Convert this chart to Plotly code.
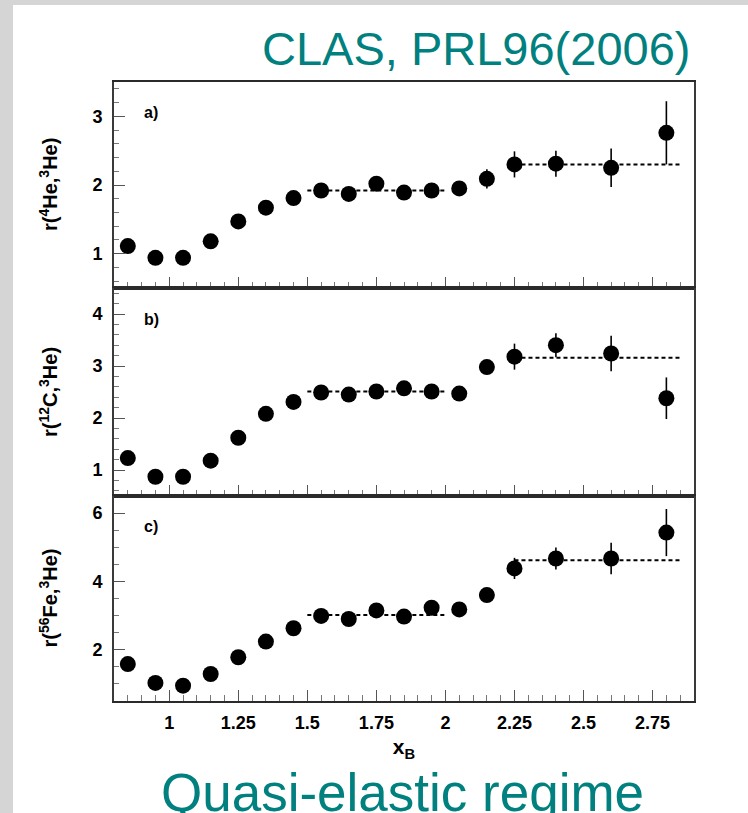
import plotly.graph_objects as go
from plotly.subplots import make_subplots

# x_B bins
x_b = [0.85, 0.95, 1.05, 1.15, 1.25, 1.35, 1.45, 1.55, 1.65, 1.75,
       1.85, 1.95, 2.05, 2.15, 2.25, 2.4, 2.6, 2.8]

# a) r(4He, 3He)
r_he4 = [1.11, 0.94, 0.94, 1.18, 1.47, 1.67, 1.81, 1.92, 1.87, 2.02,
         1.89, 1.92, 1.95, 2.09, 2.30, 2.31, 2.25, 2.76]
err_he4 = [0.03, 0.03, 0.03, 0.03, 0.03, 0.03, 0.03, 0.04, 0.04, 0.05,
           0.05, 0.05, 0.06, 0.14, 0.19, 0.19, 0.28, 0.46]

# b) r(12C, 3He)
r_c12 = [1.23, 0.87, 0.87, 1.18, 1.62, 2.08, 2.31, 2.49, 2.45, 2.51,
         2.57, 2.51, 2.47, 2.98, 3.18, 3.40, 3.24, 2.38]
err_c12 = [0.04, 0.04, 0.04, 0.04, 0.04, 0.04, 0.04, 0.05, 0.05, 0.06,
           0.06, 0.06, 0.07, 0.11, 0.25, 0.23, 0.34, 0.40]

# c) r(56Fe, 3He)
r_fe56 = [1.58, 1.03, 0.95, 1.29, 1.78, 2.24, 2.63, 2.99, 2.90, 3.15,
          2.97, 3.23, 3.18, 3.60, 4.38, 4.67, 4.67, 5.43]
err_fe56 = [0.05, 0.05, 0.05, 0.05, 0.05, 0.05, 0.05, 0.06, 0.06, 0.07,
            0.07, 0.08, 0.09, 0.15, 0.31, 0.32, 0.46, 0.69]

# plateau fits (x range, level per panel)
fit_lo_x = [1.5, 2.0]
fit_hi_x = [2.25, 2.85]
fit_lo = [1.92, 2.51, 3.02]
fit_hi = [2.30, 3.16, 4.62]

panels = [
    (r_he4, err_he4, 'a)', 'r(<sup>4</sup>He,<sup>3</sup>He)', [0.5, 3.5], 1, 0.2),
    (r_c12, err_c12, 'b)', 'r(<sup>12</sup>C,<sup>3</sup>He)', [0.5, 4.5], 1, 0.2),
    (r_fe56, err_fe56, 'c)', 'r(<sup>56</sup>Fe,<sup>3</sup>He)', [0.5, 6.5], 2, 0.5),
]

TEAL = '#00807e'
FONT = 'Liberation Sans, Arial, sans-serif'

W, H = 748, 813
L, R, T, B = 114, 54, 82, 112
pw, ph = W - L - R, H - T - B

def px_x(x):
    return (x - L) / pw

def px_y(y):
    return (H - B - y) / ph

fig = make_subplots(rows=3, cols=1, shared_xaxes=True, vertical_spacing=0,
                    row_heights=[206, 208, 205])

for i, (vals, errs, tag, ytitle, yr, dt, mdt) in enumerate(panels):
    row = i + 1
    for fx, fy in ((fit_lo_x, fit_lo[i]), (fit_hi_x, fit_hi[i])):
        fig.add_trace(go.Scatter(
            x=fx, y=[fy, fy], mode='lines',
            line=dict(color='black', width=2, dash='4px,3px'),
            hoverinfo='skip', showlegend=False), row=row, col=1)
    fig.add_trace(go.Scatter(
        x=x_b, y=vals, mode='markers',
        marker=dict(color='black', size=16, line=dict(width=0)),
        error_y=dict(type='data', array=errs, color='black', thickness=1.6, width=0),
        showlegend=False), row=row, col=1)

    fig.update_yaxes(
        range=yr, dtick=dt, tick0=0, ticks='inside', ticklen=11, tickwidth=1,
        tickcolor='#555', showline=True, linecolor='#3a3a3a', linewidth=2,
        mirror=True, showgrid=False, zeroline=False,
        minor=dict(dtick=mdt, ticks='inside', ticklen=5, tickcolor='#777', showgrid=False),
        tickfont=dict(family=FONT, size=18, color='black', weight='bold'),
        ticklabelstandoff=6,
        row=row, col=1)

    yname = 'y' if row == 1 else f'y{row}'
    fig.add_annotation(
        text=tag, xref='paper', yref=f'{yname} domain',
        x=px_x(142), y=1 - 31 / 206, xanchor='left', yanchor='middle',
        showarrow=False, font=dict(family=FONT, size=16, color='black', weight='bold'))
    fig.add_annotation(
        text=ytitle, xref='paper', yref=f'{yname} domain',
        x=px_x(48), y=0.5, textangle=-90, xanchor='center', yanchor='middle',
        showarrow=False, font=dict(family=FONT, size=20, color='black', weight='bold'))

fig.update_xaxes(
    range=[0.8, 2.9], dtick=0.25, tick0=1, ticks='inside', ticklen=11, tickwidth=1,
    tickcolor='#555', showline=True, linecolor='#2a2a2a', linewidth=2,
    mirror=True, showgrid=False, zeroline=False,
    minor=dict(dtick=0.05, ticks='inside', ticklen=6, tickcolor='#777', showgrid=False),
    tickfont=dict(family=FONT, size=18, color='black', weight='bold'),
    ticklabelstandoff=4)

fig.update_xaxes(
    title=dict(text='x<sub>B</sub>', standoff=8,
               font=dict(family=FONT, size=21, color='black', weight='bold')),
    row=3, col=1)

# slide text
fig.add_annotation(
    text='CLAS, PRL96(2006)', xref='paper', yref='paper',
    x=px_x(692), y=px_y(48), xanchor='right', yanchor='middle', showarrow=False,
    font=dict(family=FONT, size=47, color=TEAL))
fig.add_annotation(
    text='Quasi-elastic regime', xref='paper', yref='paper',
    x=px_x(402), y=px_y(792), xanchor='center', yanchor='middle', showarrow=False,
    font=dict(family=FONT, size=53, color=TEAL))

# slide background: grey border strips with a white page
fig.add_shape(type='rect', xref='paper', yref='paper', layer='below',
              x0=px_x(13), x1=px_x(W + 2), y0=px_y(5), y1=px_y(H + 2),
              fillcolor='white', line=dict(width=0))

fig.update_layout(
    width=W, height=H,
    margin=dict(l=L, r=R, t=T, b=B),
    paper_bgcolor='#d5d5d5', plot_bgcolor='white',
    showlegend=False,
)

fig.write_html('out.html', config={'displayModeBar': False},
               post_script="document.body.style.margin='0px';"
                           "document.body.style.overflow='hidden';")
